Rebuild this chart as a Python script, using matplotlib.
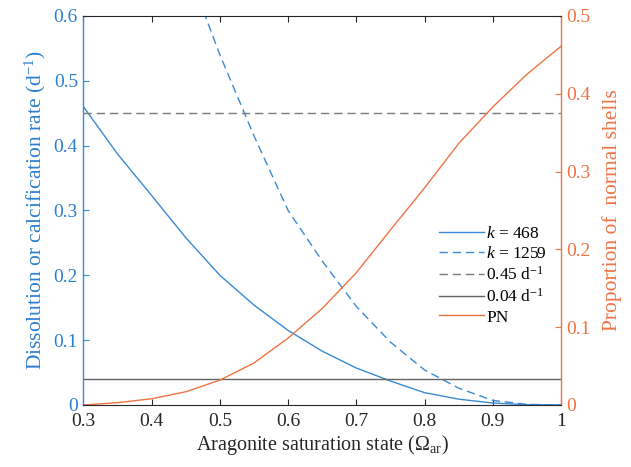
import matplotlib
matplotlib.use("Agg")
import matplotlib.pyplot as plt
from matplotlib.ticker import FuncFormatter

plt.rcParams['font.family'] = ['Liberation Serif', 'DejaVu Serif']
plt.rcParams['mathtext.fontset'] = 'custom'
plt.rcParams['mathtext.rm'] = 'Liberation Serif'
plt.rcParams['mathtext.it'] = 'Liberation Serif:italic'

# data
omega = [0.30, 0.35, 0.40, 0.45, 0.50, 0.55, 0.60, 0.65, 0.70, 0.75, 0.80, 0.85, 0.90, 0.95, 1.00]
rate_k468 = [0.46, 0.387, 0.323, 0.258, 0.200, 0.154, 0.115, 0.083, 0.057, 0.037, 0.019, 0.009, 0.003, 0.0005, 0.0]
rate_k1259 = [1.18, 1.00, 0.83, 0.68, 0.54, 0.415, 0.300, 0.222, 0.152, 0.097, 0.054, 0.026, 0.007, 0.001, 0.0]
prop_normal = [0.0, 0.003, 0.008, 0.017, 0.032, 0.054, 0.086, 0.124, 0.170, 0.225, 0.279, 0.336, 0.383, 0.425, 0.461]
rate_high = 0.45
rate_low = 0.04

blue = '#3a8ad4'
blue_txt = '#2b7fd0'
orange = '#f07345'

fig = plt.figure(figsize=(6.31, 4.67), dpi=100)
ax = fig.add_axes([0.1323, 0.1328, 0.7567, 0.833])
ax2 = ax.twinx()

l1, = ax.plot(omega, rate_k468, color=blue, lw=1.0, label='$k$ = 468')
l2, = ax.plot(omega, rate_k1259, color=blue, lw=1.0, ls=(0, (6, 3.5)), label='$k$ = 1259')
l3 = ax.axhline(rate_high, color='#7a7a7a', lw=1.0, ls=(0, (6, 3.5)), label='0.45 d$^{-1}$')
l4 = ax.axhline(rate_low, color='#636363', lw=1.0, label='0.04 d$^{-1}$')
l5, = ax2.plot(omega, prop_normal, color=orange, lw=1.0, label='PN')

ax.set_xlim(0.3, 1.0)
ax.set_ylim(0, 0.6)
ax2.set_ylim(0, 0.5)
ax.set_xticks([0.3, 0.4, 0.5, 0.6, 0.7, 0.8, 0.9, 1.0])
ax.set_yticks([0, 0.1, 0.2, 0.3, 0.4, 0.5, 0.6])
ax2.set_yticks([0, 0.1, 0.2, 0.3, 0.4, 0.5])
fmt = FuncFormatter(lambda v, p: '%g' % round(v, 2))
ax.xaxis.set_major_formatter(fmt)
ax.yaxis.set_major_formatter(fmt)
ax2.yaxis.set_major_formatter(fmt)

ax.tick_params(axis='x', direction='in', length=4, width=0.8, colors='#262626',
               labelsize=14, top=True, pad=6)
ax.tick_params(axis='y', direction='in', length=4, width=0.8, colors=blue,
               labelcolor=blue_txt, labelsize=14, pad=4)
ax2.tick_params(axis='y', direction='in', length=4, width=0.8, colors=orange,
                labelsize=14, pad=4)

for s in ['top', 'bottom']:
    ax2.spines[s].set_color('#262626')
    ax2.spines[s].set_linewidth(0.8)
ax2.spines['left'].set_color(blue)
ax2.spines['right'].set_color(orange)
ax2.spines['left'].set_linewidth(1.0)
ax2.spines['right'].set_linewidth(1.0)
for s in ax.spines.values():
    s.set_visible(False)

ax.set_xlabel('Aragonite saturation state (Ω$_{\\mathrm{ar}}$)', fontsize=14.5, color='#262626', labelpad=2)
ax.set_ylabel('Dissolution or calcification rate (d$^{-1}$)', fontsize=15.5, color=blue_txt, labelpad=4)
ax2.set_ylabel('Proportion of  normal shells', fontsize=15.5, color=orange, labelpad=8)

ax2.legend(handles=[l1, l2, l3, l4, l5], loc='upper left', bbox_to_anchor=(0.745, 0.46),
           frameon=False, fontsize=12.5, handlelength=2.6, handletextpad=0.1,
           labelspacing=0.22, borderpad=0, borderaxespad=0)

fig.savefig('out.png', dpi=100)
